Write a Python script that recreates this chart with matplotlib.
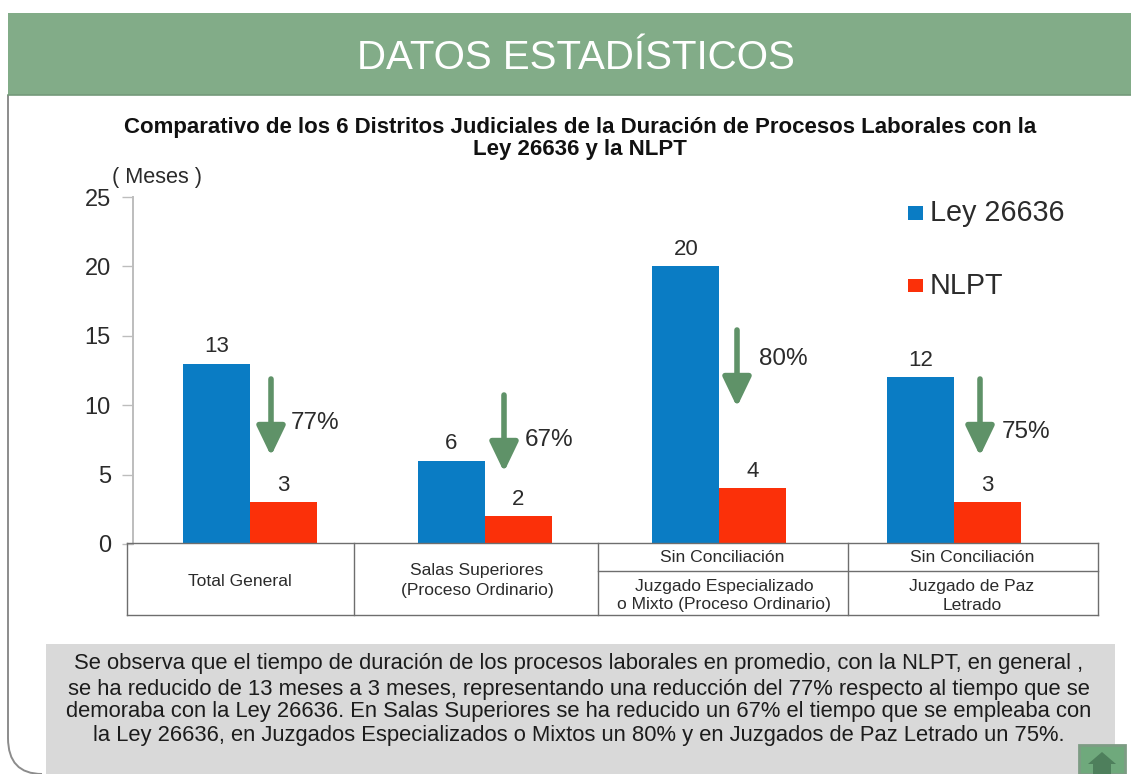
import numpy as np
import matplotlib
matplotlib.use("Agg")
import matplotlib.pyplot as plt
from matplotlib.patches import Rectangle, PathPatch, Polygon
from matplotlib.path import Path

plt.rcParams['font.family'] = ['Liberation Sans', 'DejaVu Sans']

W = 1131
H = 774

ley_26636 = [13, 6, 20, 12]
nlpt = [3, 2, 4, 3]
reduccion = ['77%', '67%', '80%', '75%']
y_ticks = [0, 5, 10, 15, 20, 25]

header = 'DATOS ESTADÍSTICOS'
titulo = ['Comparativo de los 6 Distritos Judiciales de la Duración de Procesos Laborales con la',
          'Ley 26636 y la NLPT']
resumen = ['Se observa que el tiempo de duración de los procesos laborales en promedio, con la NLPT, en general ,',
           'se ha reducido de 13 meses a 3 meses, representando una reducción del 77% respecto al tiempo que se',
           'demoraba con la Ley 26636. En Salas Superiores se ha reducido un 67% el tiempo que se empleaba con',
           'la Ley 26636, en Juzgados Especializados o Mixtos un 80% y en Juzgados de Paz Letrado un 75%.']

BLUE = '#0a7cc4'
RED = '#fb3009'
GREEN = '#82ac88'
ARROW = '#5f9268'
DARK = '#2b2b2b'
LINE = '#6e6e6e'

fig = plt.figure(figsize=(W / 100, H / 100), dpi=100, facecolor='white')

# page: header, frame and text, in pixels
bg = fig.add_axes([0, 0, 1, 1], zorder=0)
bg.set_xlim(0, W)
bg.set_ylim(H, 0)
bg.axis('off')

frame = Path([(8, 95), (8, 738), (8, 774), (42, 774)],
             [Path.MOVETO, Path.LINETO, Path.CURVE3, Path.CURVE3])
bg.add_patch(PathPatch(frame, fill=False, ec='#8c8c8c', lw=1.4))
bg.add_patch(Rectangle((8, 13), W - 8, 82, fc=GREEN, ec='none'))
bg.plot([8, W], [95, 95], color='#74997a', lw=1.2)
bg.text(576, 58, header, color='white', fontsize=29, ha='center', va='center')

bg.text(580, 128, titulo[0], fontsize=16, fontweight='bold', color='#111111', ha='center', va='center')
bg.text(580, 150, titulo[1], fontsize=16, fontweight='bold', color='#111111', ha='center', va='center')

bg.add_patch(Rectangle((46, 644), 1069, 130, fc='#d9d9d9', ec='none'))
for txt, y in zip(resumen, [664, 689, 712, 735]):
    bg.text(579, y, txt, fontsize=15.85, color='#1c1c1c', ha='center', va='center')

# home button
bg.add_patch(Rectangle((1079, 745), 46, 29, fc='#6fa97c', ec='#7d9c84', lw=2))
bg.add_patch(Polygon([(1088, 764), (1102, 752), (1116, 764)], fc='#4e7f5c', ec='none'))
bg.add_patch(Rectangle((1093, 764), 18, 10, fc='#4e7f5c', ec='none'))

# bars
ax = fig.add_axes([133 / W, 1 - 544 / H, (1071 - 133) / W, (544 - 197) / H], zorder=1)
ax.patch.set_alpha(0)
x = np.arange(len(ley_26636))
ancho = 0.285
ax.bar(x - ancho / 2, ley_26636, ancho, color=BLUE)
ax.bar(x + ancho / 2, nlpt, ancho, color=RED)
for i in x:
    ax.text(i - ancho / 2, ley_26636[i] + 0.45, str(ley_26636[i]), fontsize=16, color=DARK, ha='center', va='bottom')
    ax.text(i + ancho / 2, nlpt[i] + 0.45, str(nlpt[i]), fontsize=16, color=DARK, ha='center', va='bottom')
ax.set_xlim(-0.5, 3.5)
ax.set_ylim(0, 25)
ax.set_yticks(y_ticks)
ax.set_xticks([])
ax.tick_params(axis='y', labelsize=17, labelcolor=DARK, color='#bdbdbd', length=8, width=1, pad=8)
for s in ['top', 'right', 'bottom']:
    ax.spines[s].set_visible(False)
ax.spines['left'].set_color('#bdbdbd')
ax.spines['left'].set_linewidth(1.4)

# overlay for arrows, legend and the category table
top = fig.add_axes([0, 0, 1, 1], zorder=2)
top.set_xlim(0, W)
top.set_ylim(H, 0)
top.axis('off')

top.text(157, 178, '( Meses )', fontsize=15.7, color=DARK, ha='center', va='center')

top.add_patch(Rectangle((908, 206), 15, 14, fc=BLUE, ec='none'))
top.text(930, 213, 'Ley 26636', fontsize=20.7, color=DARK, ha='left', va='center')
top.add_patch(Rectangle((908, 279), 15, 13, fc=RED, ec='none'))
top.text(930, 286, 'NLPT', fontsize=20.7, color=DARK, ha='left', va='center')

flechas_x = [271, 504, 737, 980]
flechas_y = [379, 395, 330, 379]
pct_x = [315, 549, 783, 1026]
pct_y = [423, 440, 359, 432]
for fx, fy, px, py, p in zip(flechas_x, flechas_y, pct_x, pct_y, reduccion):
    top.annotate('', xy=(fx, fy + 77), xytext=(fx, fy),
                 arrowprops=dict(arrowstyle='-|>,head_width=0.36,head_length=0.75', color=ARROW,
                                 lw=4, mutation_scale=24, shrinkA=0, shrinkB=0))
    top.text(px, py, p, fontsize=17.5, color=DARK, ha='center', va='center')

top.plot([127, 1098], [543, 543], color=LINE, lw=1)
top.plot([127, 1098], [615, 615], color=LINE, lw=1)
top.plot([598, 1098], [571, 571], color=LINE, lw=1)
for xv in [127, 354, 598, 848, 1098]:
    top.plot([xv, xv], [543, 615], color=LINE, lw=1)

celdas = [(240, 581, 'Total General'),
          (477, 571, 'Salas Superiores'), (477, 590, '(Proceso Ordinario)'),
          (722, 558, 'Sin Conciliación'), (972, 558, 'Sin Conciliación'),
          (724, 586, 'Juzgado Especializado'), (724, 605, 'o Mixto (Proceso Ordinario)'),
          (972, 586, 'Juzgado de Paz'), (972, 605, 'Letrado')]
for cx, cy, txt in celdas:
    top.text(cx, cy, txt, fontsize=12.6, color=DARK, ha='center', va='center')

fig.savefig('out.png', dpi=100)
